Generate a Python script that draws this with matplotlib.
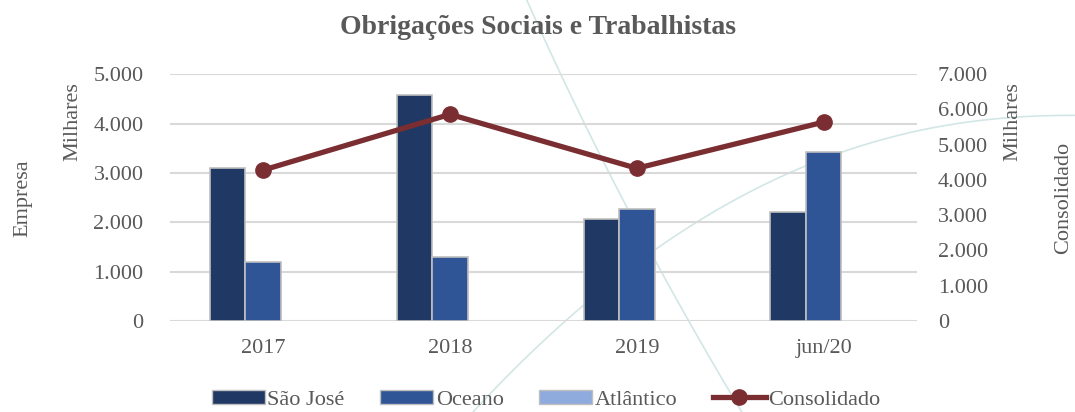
"""Obrigações Sociais e Trabalhistas - bar + line chart on twin axes."""

import matplotlib.pyplot as plt
import numpy as np
from matplotlib.lines import Line2D
from matplotlib.patches import Patch
from matplotlib.ticker import FuncFormatter

categories = ["2017", "2018", "2019", "jun/20"]
sao_jose = [3100, 4580, 2060, 2200]
oceano = [1190, 1290, 2260, 3420]
atlantico = [0, 0, 0, 0]
consolidado = [4280, 5860, 4330, 5640]

COLORS = {
    "São José": "#203864",
    "Oceano": "#2F5597",
    "Atlântico": "#8FAADC",
    "Consolidado": "#7B2E31",
}
TEXT = "#595959"
GRID = "#D9D9D9"
EDGE = "#BFBFBF"
FS = 16
FAMILY = ["Liberation Serif", "DejaVu Serif"]

plt.rcParams["font.family"] = FAMILY


def thousands(v, _pos):
    return f"{int(v):,}".replace(",", ".")


fig = plt.figure(figsize=(10.75, 4.12), dpi=100, facecolor="white")

# faint decorative curves in the background
deco = fig.add_axes([0, 0, 1, 1], zorder=-1)
deco.set_xlim(0, 1)
deco.set_ylim(0, 1)
deco.axis("off")
t = np.linspace(0, 1, 200)
deco.plot(0.49 + 0.17 * t + 0.03 * t ** 2, 1 - t, color="#D3E6E6", lw=1.2)
deco.plot(0.44 + 0.56 * t, 0.72 * (1 - (1 - t) ** 2.2), color="#D3E6E6", lw=1.2)

ax = fig.add_axes([0.158, 0.221, 0.695, 0.599])
ax.patch.set_alpha(0)
x = np.arange(len(categories))
w = 0.19
ax.bar(x - w, sao_jose, w, color=COLORS["São José"], edgecolor=EDGE, linewidth=1.2, zorder=3)
ax.bar(x, oceano, w, color=COLORS["Oceano"], edgecolor=EDGE, linewidth=1.2, zorder=3)
ax.bar(x + w, atlantico, w, color=COLORS["Atlântico"], linewidth=0, zorder=3)

ax.set_xlim(-0.5, len(categories) - 0.5)
ax.set_ylim(0, 5000)
ax.set_yticks(np.arange(0, 5001, 1000))
ax.yaxis.set_major_formatter(FuncFormatter(thousands))
ax.set_xticks(x)
ax.set_xticklabels(categories)
ax.grid(axis="y", color=GRID, linewidth=1.5, zorder=0)
ax.tick_params(axis="y", length=0, labelsize=FS, colors=TEXT, pad=19)
ax.tick_params(axis="x", length=0, labelsize=FS, colors=TEXT, pad=13)
for s in ax.spines.values():
    s.set_visible(False)

ax2 = ax.twinx()
ax2.plot(x, consolidado, color=COLORS["Consolidado"], lw=3.8, marker="o", ms=11, zorder=4)
ax2.set_ylim(0, 7000)
ax2.set_yticks(np.arange(0, 7001, 1000))
ax2.yaxis.set_major_formatter(FuncFormatter(thousands))
ax2.tick_params(length=0, labelsize=FS, colors=TEXT, pad=15)
for s in ax2.spines.values():
    s.set_visible(False)

fig.text(0.5, 0.934, "Obrigações Sociais e Trabalhistas", ha="center", va="center",
         fontsize=20, fontweight="bold", color=TEXT)
fig.text(0.068, 0.705, "Milhares", rotation=90, ha="center", va="center", fontsize=FS, color=TEXT)
fig.text(0.021, 0.52, "Empresa", rotation=90, ha="center", va="center", fontsize=FS, color=TEXT)
fig.text(0.942, 0.705, "Milhares", rotation=90, ha="center", va="center", fontsize=FS, color=TEXT)
fig.text(0.989, 0.52, "Consolidado", rotation=90, ha="center", va="center", fontsize=FS, color=TEXT)

handles = [
    Patch(facecolor=COLORS["São José"], edgecolor=EDGE),
    Patch(facecolor=COLORS["Oceano"], edgecolor=EDGE),
    Patch(facecolor=COLORS["Atlântico"], edgecolor=EDGE),
    Line2D([], [], color=COLORS["Consolidado"], lw=3.8, marker="o", ms=11),
]
fig.legend(handles, ["São José", "Oceano", "Atlântico", "Consolidado"], loc="center",
           bbox_to_anchor=(0.508, 0.03), ncol=4, frameon=False,
           prop={"family": FAMILY, "size": FS},
           labelcolor=TEXT, handlelength=2.4, handleheight=0.6, handletextpad=0.1,
           columnspacing=1.6)

fig.savefig("out.png", dpi=100, facecolor="white")
